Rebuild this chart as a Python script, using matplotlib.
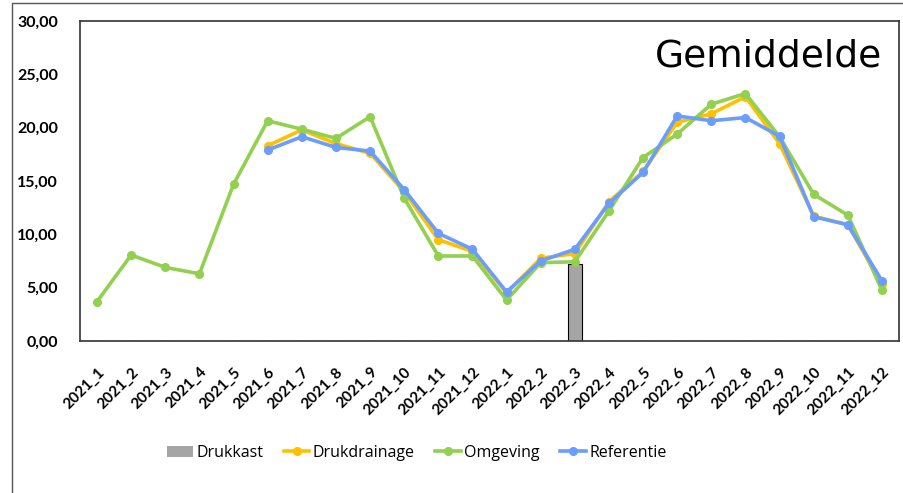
import matplotlib
matplotlib.use("Agg")
import matplotlib.pyplot as plt
from matplotlib.patches import Rectangle, Patch
from matplotlib.ticker import FuncFormatter
import numpy as np

categories = [f"2021_{m}" for m in range(1, 13)] + [f"2022_{m}" for m in range(1, 13)]

drukkast = [None]*14 + [7.2] + [None]*9

drukdrainage = [None, None, None, None, None,
                18.3, 19.8, 18.5, 17.6, 14.0, 9.5, 8.4,
                4.5, 7.75, 8.2, 13.05, 15.9, 20.5, 21.3, 22.9, 18.5, 11.7, 10.9, 5.3]

omgeving = [3.7, 8.06, 6.9, 6.3, 14.7,
            20.65, 19.85, 19.0, 21.03, 13.4, 7.97, 7.97,
            3.84, 7.34, 7.43, 12.19, 17.2, 19.4, 22.2, 23.2, 19.15, 13.75, 11.8, 4.78]

referentie = [None, None, None, None, None,
              17.9, 19.15, 18.15, 17.8, 14.2, 10.1, 8.6,
              4.6, 7.5, 8.6, 12.9, 15.8, 21.1, 20.65, 20.95, 19.2, 11.65, 10.9, 5.65]

yticks = [0, 5, 10, 15, 20, 25, 30]

def arr(v):
    return np.array([np.nan if x is None else x for x in v], dtype=float)

plt.rcParams['font.family'] = ['Lato', 'DejaVu Sans']

fig = plt.figure(figsize=(9.04, 4.93), dpi=100)
ax = fig.add_axes([80/904, 1-341/493, (899-80)/904, (341-21)/493])

# outer frame (top and left visible)
fig.patches.append(Rectangle((12/904, -0.05), 1.0, 1 - 3/493 + 0.05, transform=fig.transFigure,
                             fill=False, edgecolor='#555555', linewidth=1.0, zorder=0))

x = np.arange(len(categories))
ax.bar(x, np.nan_to_num(arr(drukkast)), width=0.42, color='#A5A5A5', edgecolor='black',
       linewidth=0.8, label='Drukkast', zorder=2)
lw, ms = 2.6, 5.5
ax.plot(x, arr(drukdrainage), color='#FFC000', lw=lw, marker='o', ms=ms, label='Drukdrainage', zorder=3)
ax.plot(x, arr(omgeving), color='#92D050', lw=lw, marker='o', ms=ms, label='Omgeving', zorder=4)
ax.plot(x, arr(referentie), color='#6A9DFF', lw=lw, marker='o', ms=ms, label='Referentie', zorder=5)

ax.set_xlim(-0.5, len(categories) - 0.5)
ax.set_ylim(0, 30)
ax.set_yticks(yticks)
ax.yaxis.set_major_formatter(FuncFormatter(lambda v, p: f"{v:.2f}".replace('.', ',')))
ax.set_xticks(x)
ax.set_xticklabels(categories, rotation=45, ha='right', va='top', rotation_mode='anchor',
                   fontsize=11, fontweight='bold')
for lab in ax.get_yticklabels():
    lab.set_fontweight('bold')
    lab.set_fontsize(11.5)
ax.tick_params(axis='x', length=0, pad=17)
ax.tick_params(axis='y', length=0, pad=16)
for s in ax.spines.values():
    s.set_color('#333333')
    s.set_linewidth(1.2)

ax.text(0.979, 0.945, 'Gemiddelde', transform=ax.transAxes, ha='right', va='top',
        fontsize=27, family=['DejaVu Sans'])

handles, labels = ax.get_legend_handles_labels()
hmap = dict(zip(labels, handles))
hmap['Drukkast'] = Patch(facecolor='#A5A5A5', edgecolor='none')
names = ['Drukkast', 'Drukdrainage', 'Omgeving', 'Referentie']
fig.legend([hmap[n] for n in names], names,
           loc='center', bbox_to_anchor=(417/904, 1-453/493), ncol=4, frameon=False,
           handlelength=1.6, columnspacing=1.3, handletextpad=0.2,
           prop={'family': ['Open Sans', 'DejaVu Sans'], 'size': 11.5})

fig.savefig('out.png', dpi=100)
